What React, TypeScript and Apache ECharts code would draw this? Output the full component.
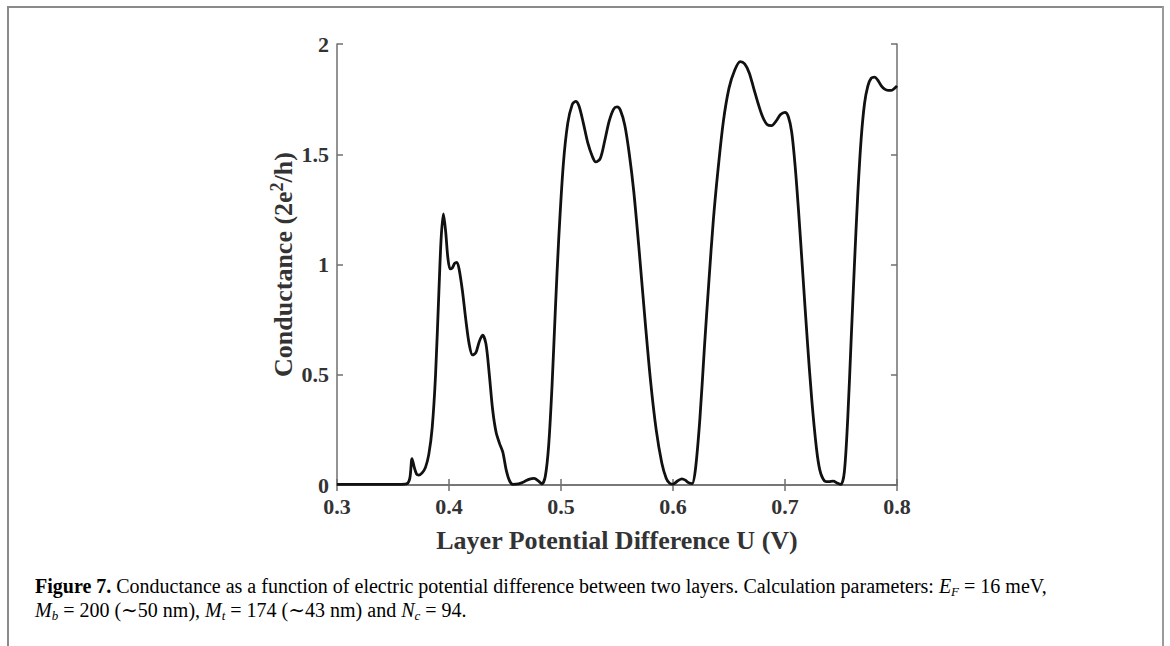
import React, { useEffect, useRef } from "react";
import * as echarts from "echarts";

// Layer potential difference U (V) vs conductance (2e^2/h)
const conductanceCurve: [number, number][] = [
  [0.300, 0.003], [0.320, 0.003], [0.340, 0.003], [0.355, 0.003], [0.362, 0.005],
  [0.365, 0.03], [0.367, 0.12], [0.369, 0.08], [0.371, 0.05], [0.373, 0.045],
  [0.376, 0.055], [0.379, 0.08], [0.382, 0.14], [0.385, 0.26], [0.388, 0.5],
  [0.391, 0.88], [0.393, 1.12], [0.395, 1.23], [0.397, 1.15], [0.399, 1.03],
  [0.401, 0.98], [0.403, 0.985], [0.405, 1.005], [0.407, 1.01], [0.409, 0.98],
  [0.412, 0.88], [0.415, 0.75], [0.418, 0.64], [0.421, 0.59], [0.424, 0.6],
  [0.427, 0.65], [0.430, 0.68], [0.433, 0.64], [0.436, 0.5], [0.439, 0.34],
  [0.442, 0.24], [0.445, 0.19], [0.448, 0.15], [0.451, 0.07], [0.454, 0.02],
  [0.457, 0.003], [0.462, 0.005], [0.467, 0.015], [0.472, 0.027], [0.476, 0.03],
  [0.480, 0.018], [0.483, 0.005], [0.486, 0.04], [0.489, 0.18], [0.492, 0.45],
  [0.495, 0.8], [0.498, 1.12], [0.502, 1.45], [0.506, 1.64], [0.510, 1.725],
  [0.513, 1.74], [0.516, 1.72], [0.520, 1.64], [0.524, 1.55], [0.528, 1.49],
  [0.531, 1.465], [0.535, 1.48], [0.539, 1.56], [0.543, 1.65], [0.547, 1.705],
  [0.550, 1.715], [0.553, 1.7], [0.557, 1.63], [0.561, 1.5], [0.565, 1.33],
  [0.570, 1.05], [0.575, 0.75], [0.580, 0.47], [0.585, 0.25], [0.590, 0.1],
  [0.594, 0.03], [0.597, 0.008], [0.600, 0.004], [0.604, 0.018], [0.608, 0.028],
  [0.611, 0.022], [0.614, 0.01], [0.617, 0.006], [0.620, 0.07], [0.624, 0.3],
  [0.628, 0.62], [0.632, 0.92], [0.636, 1.2], [0.640, 1.42], [0.645, 1.65],
  [0.650, 1.8], [0.655, 1.88], [0.660, 1.92], [0.664, 1.91], [0.668, 1.87],
  [0.672, 1.8], [0.676, 1.73], [0.680, 1.67], [0.684, 1.635], [0.688, 1.63],
  [0.692, 1.65], [0.696, 1.68], [0.700, 1.69], [0.703, 1.67], [0.706, 1.6],
  [0.709, 1.45], [0.712, 1.25], [0.716, 0.95], [0.720, 0.65], [0.724, 0.38],
  [0.728, 0.17], [0.731, 0.07], [0.735, 0.02], [0.739, 0.015], [0.743, 0.018],
  [0.747, 0.008], [0.750, 0.003], [0.753, 0.06], [0.756, 0.3], [0.759, 0.65],
  [0.762, 1.0], [0.765, 1.32], [0.768, 1.57], [0.771, 1.73], [0.774, 1.81],
  [0.777, 1.845], [0.780, 1.85], [0.783, 1.835], [0.786, 1.81], [0.789, 1.795],
  [0.792, 1.79], [0.795, 1.79], [0.798, 1.8], [0.800, 1.81],
];

const xRange = [0.3, 0.8];
const xStep = 0.1;
const yRange = [0, 2];
const yStep = 0.5;

const xAxisTitle = "Layer Potential Difference U (V)";
const yAxisTitle = "{a|Conductance (2e}{s|2}{a|/h)}";

const captionLine1 =
  "{b|Figure 7.}{n| Conductance as a function of electric potential difference between two layers. Calculation parameters: }{i|E}{sub|F}{n| = 16 meV,}";
const captionLine2 =
  "{i|M}{sub|b}{n| = 200 (∼50 nm), }{i|M}{sub|t}{n| = 174 (∼43 nm) and }{i|N}{sub|c}{n| = 94.}";

const SERIF = "'Liberation Serif', 'DejaVu Serif', serif";
const AXIS_COLOR = "#6f6f6f";
const TEXT_COLOR = "#333333";

export default function App() {
  const ref = useRef<HTMLDivElement>(null);

  useEffect(() => {
    if (!ref.current) return;
    const chart = echarts.init(ref.current, undefined, { renderer: "svg" });

    const capRich = {
      b: { fontFamily: SERIF, fontSize: 20, fontWeight: "bold", color: "#111", lineHeight: 24 },
      n: { fontFamily: SERIF, fontSize: 20, color: "#111", lineHeight: 24 },
      i: { fontFamily: SERIF, fontSize: 20, fontStyle: "italic", color: "#111", lineHeight: 24 },
      sub: { fontFamily: SERIF, fontSize: 13, fontStyle: "italic", color: "#111", lineHeight: 13, verticalAlign: "bottom" },
    };

    const hiddenAxisCommon = {
      axisLine: { show: true, lineStyle: { color: AXIS_COLOR, width: 1.5 } },
      axisTick: { show: true, inside: true, length: 6, lineStyle: { color: AXIS_COLOR, width: 1.5 } },
      axisLabel: { show: false },
      splitLine: { show: false },
    };

    chart.setOption({
      animation: false,
      backgroundColor: "#ffffff",
      grid: { left: 337, right: 273, top: 44, bottom: 161, containLabel: false },
      xAxis: [
        {
          type: "value",
          min: xRange[0],
          max: xRange[1],
          interval: xStep,
          position: "bottom",
          name: xAxisTitle,
          nameLocation: "middle",
          nameGap: 42,
          nameTextStyle: { fontFamily: SERIF, fontSize: 26, fontWeight: "bold", color: TEXT_COLOR, lineHeight: 26 },
          axisLine: { show: true, lineStyle: { color: AXIS_COLOR, width: 1.5 } },
          axisTick: { show: true, inside: true, length: 6, lineStyle: { color: AXIS_COLOR, width: 1.5 } },
          axisLabel: {
            fontFamily: SERIF,
            fontSize: 22,
            fontWeight: "bold",
            color: TEXT_COLOR,
            lineHeight: 20,
            margin: 11,
            formatter: (v: number) => v.toFixed(1),
          },
          splitLine: { show: false },
        },
        {
          type: "value",
          min: xRange[0],
          max: xRange[1],
          interval: xStep,
          position: "top",
          ...hiddenAxisCommon,
        },
      ],
      yAxis: [
        {
          type: "value",
          min: yRange[0],
          max: yRange[1],
          interval: yStep,
          position: "left",
          name: yAxisTitle,
          nameLocation: "middle",
          nameGap: 39,
          nameRotate: 90,
          nameTextStyle: {
            rich: {
              a: { fontFamily: SERIF, fontSize: 26, fontWeight: "bold", color: TEXT_COLOR, lineHeight: 30 },
              s: { fontFamily: SERIF, fontSize: 18, fontWeight: "bold", color: TEXT_COLOR, lineHeight: 18, verticalAlign: "top" },
            },
          },
          axisLine: { show: true, lineStyle: { color: AXIS_COLOR, width: 1.5 } },
          axisTick: { show: true, inside: true, length: 6, lineStyle: { color: AXIS_COLOR, width: 1.5 } },
          axisLabel: {
            fontFamily: SERIF,
            fontSize: 22,
            fontWeight: "bold",
            color: TEXT_COLOR,
            lineHeight: 20,
            margin: 8,
          },
          splitLine: { show: false },
        },
        {
          type: "value",
          min: yRange[0],
          max: yRange[1],
          interval: yStep,
          position: "right",
          ...hiddenAxisCommon,
        },
      ],
      series: [
        {
          type: "line",
          xAxisIndex: 0,
          yAxisIndex: 0,
          data: conductanceCurve,
          showSymbol: false,
          smooth: 0.3,
          lineStyle: { color: "#111111", width: 2.8 },
        },
      ],
      graphic: [
        { type: "line", shape: { x1: 8, y1: 7, x2: 1163, y2: 7 }, style: { stroke: "#8a8a8a", lineWidth: 2 } },
        { type: "line", shape: { x1: 8, y1: 6, x2: 8, y2: 646 }, style: { stroke: "#8a8a8a", lineWidth: 2 } },
        { type: "line", shape: { x1: 1163, y1: 6, x2: 1163, y2: 646 }, style: { stroke: "#9a9a9a", lineWidth: 2 } },
        {
          type: "text",
          left: 35,
          top: 576,
          style: { text: captionLine1, rich: capRich },
        },
        {
          type: "text",
          left: 35,
          top: 600,
          style: { text: captionLine2, rich: capRich },
        },
      ],
    });

    return () => chart.dispose();
  }, []);

  return (
    <div
      ref={ref}
      style={{ position: "absolute", left: 0, top: 0, width: 1170, height: 646, background: "#fff" }}
    />
  );
}
